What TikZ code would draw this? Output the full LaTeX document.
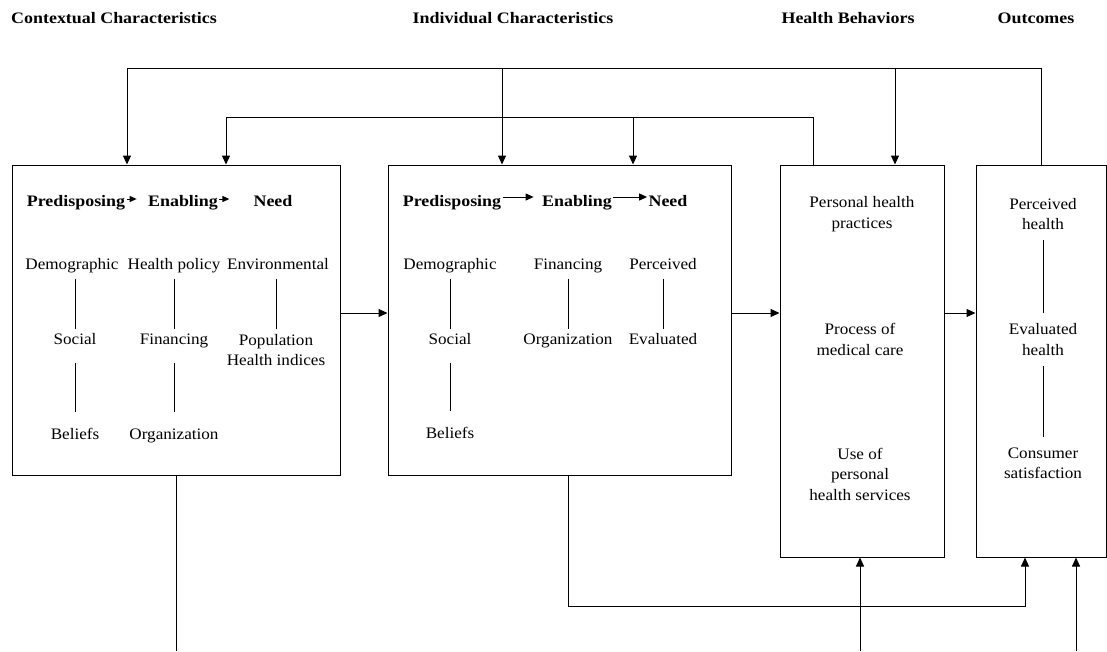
\documentclass[tikz,border=0pt]{standalone}
\usepackage{fontspec}
\setmainfont{Liberation Serif}[FakeStretch=1.07,BoldFeatures={FakeStretch=1.12}]
\usetikzlibrary{arrows.meta}

\begin{document}
\begin{tikzpicture}[x=1pt,y=-1pt,line width=1pt,
  box/.style={draw,inner sep=0pt},
  txt/.style={font=\fontsize{16}{20.5}\selectfont,text height=11pt,text depth=4pt,inner xsep=1pt,inner ysep=4.5pt},
  mtxt/.style={font=\fontsize{16}{20.5}\selectfont,align=center,inner xsep=1pt,inner ysep=4.5pt},
  otxt/.style={mtxt,inner ysep=10pt},
  hd/.style={font=\fontsize{16}{20.5}\selectfont\bfseries,text height=11pt,text depth=4pt,inner sep=1pt},
  arr/.style={-{Triangle[length=9pt,width=8pt]}},
  marr/.style={-{Triangle[length=8pt,width=7pt]}},
  sarr/.style={-{Triangle[length=7pt,width=6pt]}}]
\useasboundingbox (0,0) rectangle (1107,651);
\coordinate (fb1) at (0,68); \coordinate (fb2) at (0,117); \coordinate (base) at (0,651);
% titles
\node[hd] (tctx) at (114,20) {Contextual Characteristics};
\node[hd] (tind) at (513,20) {Individual Characteristics};
\node[hd] (tbeh) at (848,20) {Health Behaviors};
\node[hd] (tout) at (1036,20) {Outcomes};
% boxes
\node[box,minimum width=328pt,minimum height=310pt] (ctx) at (176,320) {};
\node[box,minimum width=343pt,minimum height=310pt] (ind) at (559.5,320) {};
\node[box,minimum width=164pt,minimum height=392pt] (beh) at (862,361) {};
\node[box,minimum width=130pt,minimum height=392pt] (out) at (1041,361) {};
% contextual
\node[hd] (pre1) at (76,203) {Predisposing};
\node[hd] (ena1) at (183,203) {Enabling};
\node[hd] (nee1) at (273,203) {Need};
\draw[sarr] ([yshift=4pt]pre1.east) -- ++(10,0);
\draw[sarr] ([yshift=4pt]ena1.east) -- ++(10,0);
\node[txt] (dem1) at (72,266) {Demographic};
\node[txt] (soc1) at (75,341) {Social};
\node[txt] (bel1) at (75,436) {Beliefs};
\node[txt] (pol1) at (174,266) {Health policy};
\node[txt] (fin1) at (174,341) {Financing};
\node[txt] (org1) at (174,436) {Organization};
\node[txt] (env1) at (278,266) {Environmental};
\node[mtxt] (pop1) at (276,350) {Population\\Health indices};
\draw (soc1.north |- dem1.south) -- (soc1.north); \draw ([yshift=-9pt]soc1.south) -- ([yshift=12pt]bel1.north);
\draw (pol1.south) -- (fin1.north); \draw ([yshift=-9pt]fin1.south) -- ([yshift=12pt]org1.north);
\draw (pop1.north |- env1.south) -- (pop1.north);
% individual
\node[hd] (pre2) at (452,203) {Predisposing};
\node[hd] (ena2) at (577,203) {Enabling};
\node[hd] (nee2) at (668,203) {Need};
\draw[marr,shorten >=7pt] ([yshift=6pt]pre2.east) -- ([yshift=6pt]ena2.west);
\draw[marr] ([yshift=6pt]ena2.east) -- ([yshift=6pt]nee2.west);
\node[txt] (dem2) at (450,266) {Demographic};
\node[txt] (soc2) at (450,341) {Social};
\node[txt] (bel2) at (450,435) {Beliefs};
\node[txt] (fin2) at (568,266) {Financing};
\node[txt] (org2) at (568,341) {Organization};
\node[txt] (per2) at (663,266) {Perceived};
\node[txt] (eva2) at (663,341) {Evaluated};
\draw (dem2.south) -- (soc2.north); \draw ([yshift=-9pt]soc2.south) -- ([yshift=12pt]bel2.north);
\draw (fin2.south) -- (org2.north);
\draw (per2.south) -- (eva2.north);
% behaviors and outcomes
\node[mtxt] (php) at (862,214) {Personal health\\practices};
\node[mtxt] (pmc) at (860,339.5) {Process of\\medical care};
\node[mtxt] (uph) at (860,474) {Use of\\personal\\health services};
\node[otxt] (pch) at (1043,214) {Perceived\\health};
\node[otxt] (evh) at (1043,339.5) {Evaluated\\health};
\node[otxt] (csa) at (1043,463.5) {Consumer\\satisfaction};
\draw (pch.south) -- (evh.north); \draw (evh.south) -- (csa.north);
% flow
\draw[arr] ([yshift=7pt]ctx.east) -- ([yshift=7pt]ind.west);
\draw[arr] ([yshift=7pt]ind.east) -- ([yshift=48pt]beh.west);
\draw[arr] ([yshift=48pt]beh.east) -- ([yshift=48pt]out.west);
% feedback
\draw[arr] (out.north) -- (out.north |- fb1) -| ([xshift=-49pt]ctx.north);
\draw[arr] ([xshift=-57.5pt]ind.north |- fb1) -- ([xshift=-57.5pt]ind.north);
\draw[arr] ([xshift=33pt]beh.north |- fb1) -- ([xshift=33pt]beh.north);
\draw[arr] ([xshift=-49pt]beh.north) -- ([xshift=-49pt]beh.north |- fb2) -| ([xshift=50pt]ctx.north);
\draw[arr] ([xshift=73.5pt]ind.north |- fb2) -- ([xshift=73.5pt]ind.north);
% bottom
\draw (ctx.south) -- (ctx.south |- base);
\draw[arr] ([xshift=8.5pt]ind.south) -- ++(0,131) -| ([xshift=-16pt]out.south);
\draw[arr] ([xshift=-2pt]beh.south |- base) -- ([xshift=-2pt]beh.south);
\draw[arr] ([xshift=35pt]out.south |- base) -- ([xshift=35pt]out.south);
\end{tikzpicture}
\end{document}
